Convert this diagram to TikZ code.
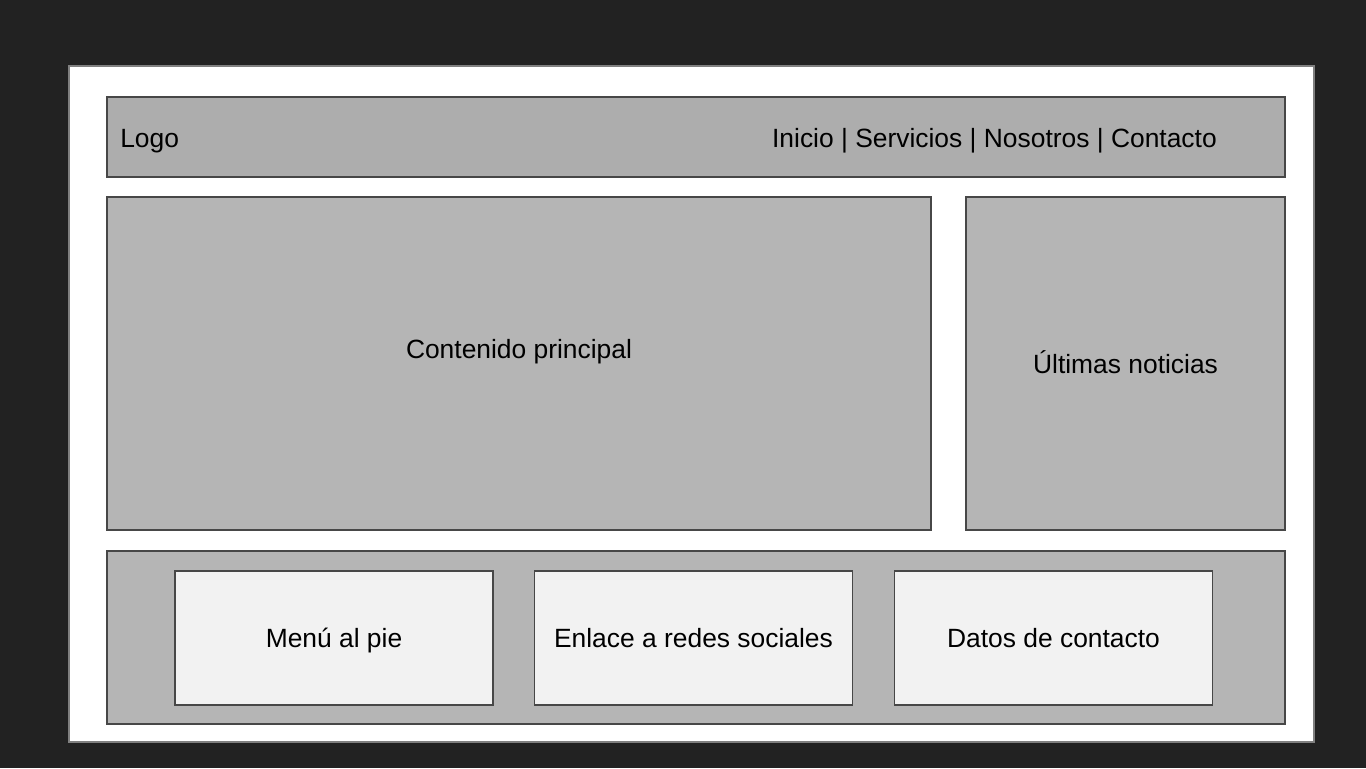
\documentclass[tikz,border=0pt]{standalone}
\usepackage{fontspec}
\setmainfont{Liberation Sans}
\definecolor{bgdark}{HTML}{222222}
\definecolor{boxline}{HTML}{474747}
\definecolor{headfill}{HTML}{ADADAD}
\definecolor{areafill}{HTML}{B5B5B5}
\definecolor{cardfill}{HTML}{F2F2F2}
\tikzstyle{every picture}+=[remember picture]

\begin{document}
\begin{tikzpicture}[x=0.75pt,y=-0.75pt,
	area/.style={draw=boxline,line width=1pt,fill=areafill,inner sep=0pt},
	card/.style={area,fill=cardfill,minimum width=318*0.75pt,minimum height=134*0.75pt},
	label/.style={font=\fontsize{19.8}{23}\selectfont,inner sep=0pt,anchor=base}]
\fill [bgdark] (0,0) rectangle (1366,768);
\useasboundingbox (0,0) rectangle (1366,768);
\node [draw=gray,line width=1pt,fill=white,minimum width=1245*0.75pt,minimum height=676*0.75pt] (page) at (691.5,404) {};
% header
\node [area,fill=headfill,minimum width=1178*0.75pt,minimum height=80*0.75pt] (head) at (696,137) {};
\node [label,anchor=base west] (logo) at (120,147) {Logo};
\node [label,anchor=base east] (nav) at (1217,147) {Inicio | Servicios | Nosotros | Contacto};
% body
\node [area,minimum width=824*0.75pt,minimum height=333*0.75pt] (main) at (519,363.5) {};
\node [label] (maintext) at (519,358) {Contenido principal};
\node [area,minimum width=319*0.75pt,minimum height=333*0.75pt] (side) at (1125.5,363.5) {};
\node [label] (sidetext) at (1125.5,373) {Últimas noticias};
% footer
\node [area,minimum width=1178*0.75pt,minimum height=173*0.75pt] (foot) at (696,637.5) {};
\node [card] (menu) at (334,638) {};
\node [card] (social) at (693.5,638) {};
\node [card] (contact) at (1053.5,638) {};
\node [label] at (menu.center |- 0,647) {Menú al pie};
\node [label] at (social.center |- 0,647) {Enlace a redes sociales};
\node [label] at (contact.center |- 0,647) {Datos de contacto};
\end{tikzpicture}
\end{document}
